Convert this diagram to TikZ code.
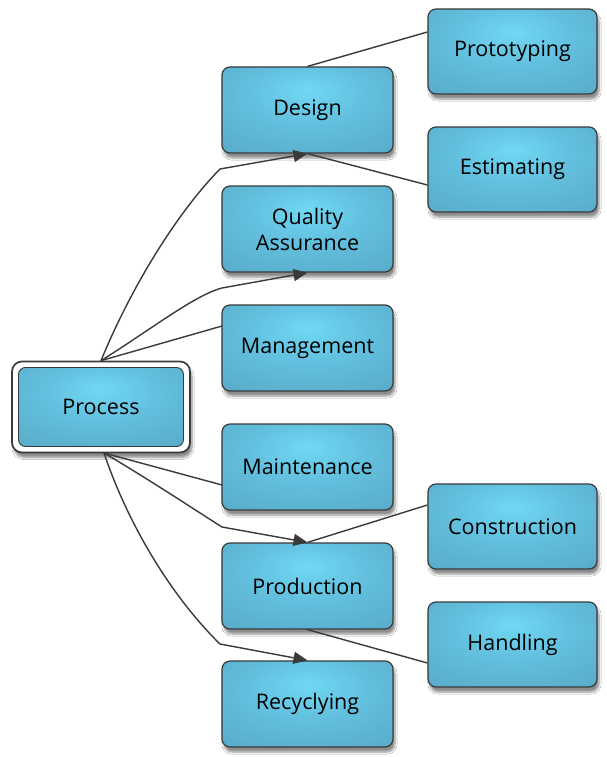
\documentclass[tikz,border=0pt]{standalone}
\usepackage{fontspec}
\setmainfont{Open Sans}
\usetikzlibrary{arrows.meta,calc,shadows.blur}
\definecolor{boxin}{HTML}{70D8F4}
\definecolor{boxmid}{HTML}{62BFDD}
\definecolor{boxout}{HTML}{56A6C3}
\definecolor{edgec}{HTML}{3A3A3A}
\pgfdeclareradialshading{boxshade}{\pgfpoint{0bp}{12bp}}{%
  color(0bp)=(boxin); color(18bp)=(boxmid); color(45bp)=(boxout); color(70bp)=(boxout)}
\begin{document}
\begin{tikzpicture}[x=1pt,y=-1pt,
  box/.style={rectangle, rounded corners=8pt, draw=edgec, line width=1.2pt,
    shading=boxshade, align=center,
    font=\fontsize{21.5}{26}\selectfont,
    blur shadow={shadow xshift=2pt, shadow yshift=-5pt, shadow blur steps=6, shadow opacity=45}},
  lone/.style={box, minimum width=171pt, minimum height=86pt},
  ltwo/.style={box, minimum width=169pt, minimum height=85pt},
  conn/.style={draw=edgec, line width=1.4pt},
  arr/.style={conn, -{Triangle[length=14pt,width=12pt]}}]
\useasboundingbox (0,0) rectangle (607,757);
\fill[white] (0,0) rectangle (607,757);
% Process
\node[rectangle, rounded corners=10pt, draw=edgec, line width=1.7pt, fill=white,
  minimum width=178pt, minimum height=91pt,
  blur shadow={shadow xshift=2pt, shadow yshift=-5pt, shadow blur steps=6, shadow opacity=45}] (P) at (101,407) {};
\node[rectangle, rounded corners=7pt, draw=edgec, line width=0.9pt,
  shading=boxshade, minimum width=165pt, minimum height=79pt,
  font=\fontsize{21.5}{26}\selectfont] (Pin) at (101,407) {Process};
% level 1
\node[lone] (D) at (307.5,110) {Design};
\node[lone] (Q) at (307.5,229) {Quality\\Assurance};
\node[lone] (M) at (307.5,348) {Management};
\node[lone] (Mt) at (307.5,467) {Maintenance};
\node[lone] (Pr) at (307.5,586) {Production};
\node[lone] (R) at (307.5,704) {Recyclying};
% level 2
\node[ltwo] (Pt) at (512.5,51.5) {Prototyping};
\node[ltwo] (E) at (512.5,169.5) {Estimating};
\node[ltwo] (C) at (512.5,526.5) {Construction};
\node[ltwo] (H) at (512.5,644.5) {Handling};
% bend points
\coordinate (c1) at (220,169);
\coordinate (c2) at (222,288);
\coordinate (c3) at (222,326);
\coordinate (c4) at (222,485);
\coordinate (c5) at (222,527);
\coordinate (c6) at (220,644);
\coordinate (Ps) at (104,453);
% connectors
\draw[arr] (P.north) .. controls (130,290) and (175,215) .. (c1) -- (D.south);
\draw[arr] (P.north) .. controls (150,330) and (195,295) .. (c2) -- (Q.south);
\draw[conn] (P.north) -- (c3);
\draw[conn] (Ps) -- (c4);
\draw[arr] (Ps) .. controls (150,480) and (195,510) .. (c5) -- (Pr.north);
\draw[arr] (Ps) .. controls (130,530) and (175,600) .. (c6) -- (R.north);
\draw[conn] (D.north) -- ($(Pt.west)+(0,-19.5)$);
\draw[conn] (D.south) -- ($(E.west)+(0,15.5)$);
\draw[conn] (Pr.north) -- ($(C.west)+(0,-21.5)$);
\draw[conn] (Pr.south) -- ($(H.west)+(0,18.5)$);
\end{tikzpicture}
\end{document}
